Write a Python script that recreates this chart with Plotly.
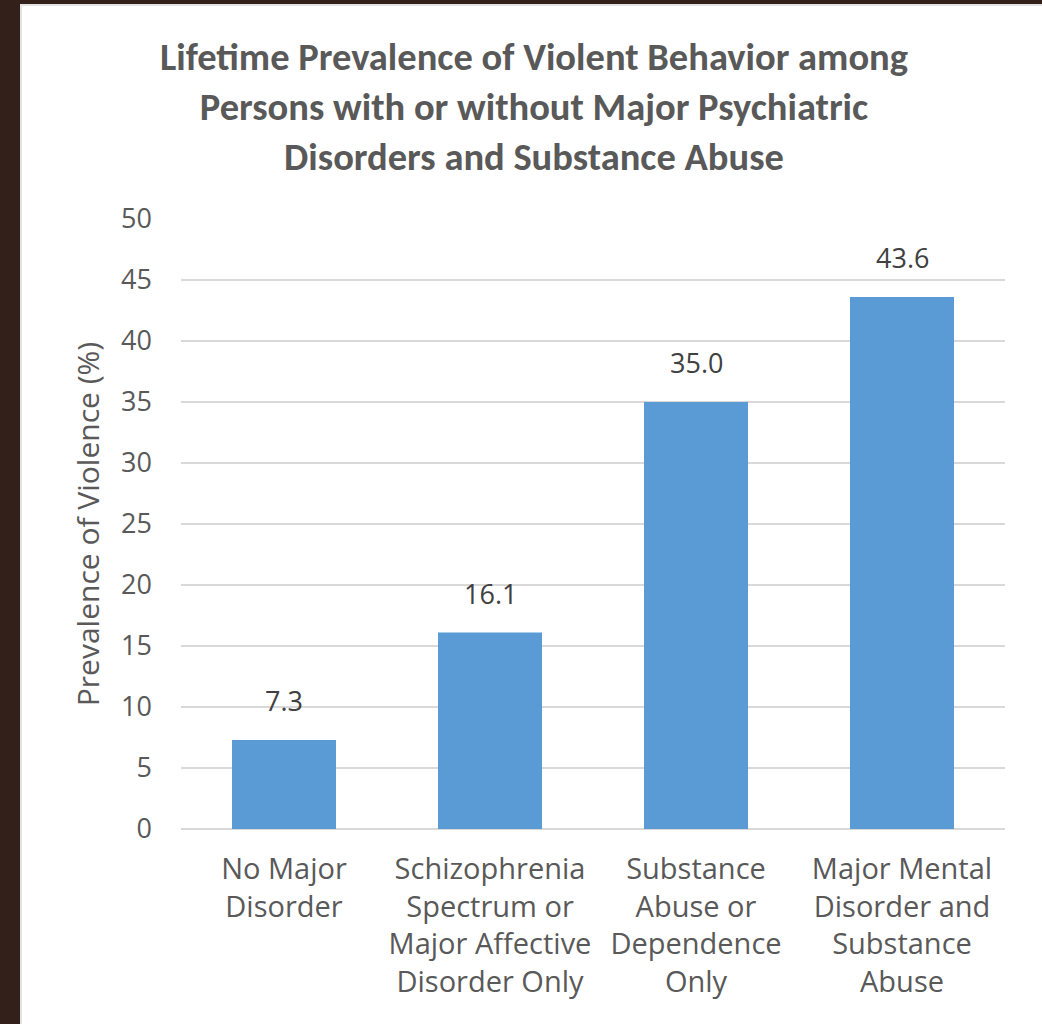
import plotly.graph_objects as go

# Chart data
categories = [
    "No Major<br>Disorder",
    "Schizophrenia<br>Spectrum or<br>Major Affective<br>Disorder Only",
    "Substance<br>Abuse or<br>Dependence<br>Only",
    "Major Mental<br>Disorder and<br>Substance<br>Abuse",
]
prevalence = [7.3, 16.1, 35.0, 43.6]
y_ticks = [0, 5, 10, 15, 20, 25, 30, 35, 40, 45, 50]

# Page geometry
W, H = 1042, 1024
ML, MR, MT, MB = 181, 37, 219, 195
PW, PH = W - ML - MR, H - MT - MB

TEXT = "#595959"
LABEL = "#404040"
BAR = "#5B9BD5"
GRID = "#D9D9D9"
FONT = "Open Sans, Noto Sans, sans-serif"

fig = go.Figure()
fig.add_trace(go.Bar(
    x=categories,
    y=prevalence,
    marker=dict(color=BAR, line=dict(width=0)),
    hoverinfo="skip",
))

# Value labels above each bar
for cat, val in zip(categories, prevalence):
    fig.add_annotation(
        x=cat, y=val, text=f"{val:.1f}",
        showarrow=False, yanchor="bottom", yshift=19,
        font=dict(family=FONT, size=27, color=LABEL),
    )

# White card over the dark wooden backdrop
def px_x(p):
    return (p - ML) / PW

def px_y(p):
    return 1 - (p - MT) / PH

fig.add_shape(
    type="rect", xref="paper", yref="paper", layer="below",
    x0=px_x(21), x1=px_x(W + 10), y0=px_y(H + 10), y1=px_y(5),
    fillcolor="white", line=dict(color="#E2E2E2", width=2),
)

fig.update_layout(
    width=W, height=H,
    margin=dict(l=ML, r=MR, t=MT, b=MB, pad=0),
    paper_bgcolor="#33201A",
    plot_bgcolor="rgba(0,0,0,0)",
    showlegend=False,
    bargap=0.495,
    title=dict(
        text="Lifetime Prevalence of Violent Behavior among<br>"
             "Persons with or without Major Psychiatric<br>"
             "Disorders and Substance Abuse",
        font=dict(family="Carlito, Lato, sans-serif", size=38.5, color=TEXT, weight="bold"),
        x=534 / W, xanchor="center", xref="container",
        y=1 - 70 / H, yanchor="top", yref="container",
    ),
    xaxis=dict(
        showgrid=False, showline=False, zeroline=False,
        ticks="", ticklabelstandoff=20,
        tickfont=dict(family=FONT, size=29, color=TEXT),
    ),
    yaxis=dict(
        range=[0, 50],
        tickvals=y_ticks,
        showgrid=True, gridcolor=GRID, gridwidth=2,
        zeroline=True, zerolinecolor=GRID, zerolinewidth=2,
        showline=False, ticks="", ticklabelstandoff=28,
        tickfont=dict(family=FONT, size=27, color=TEXT),
        title=dict(
            text="Prevalence of Violence (%)",
            font=dict(family=FONT, size=30, color=TEXT),
            standoff=12,
        ),
    ),
)

fig.write_html("out.html")
